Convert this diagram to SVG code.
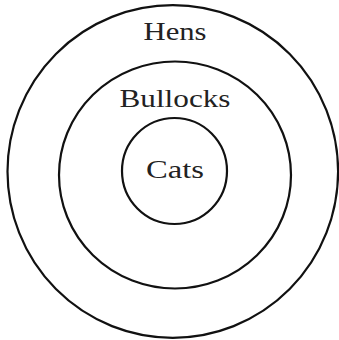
<svg xmlns="http://www.w3.org/2000/svg" width="339" height="340" viewBox="0 0 339 340">
<style>
.ring{fill:none;stroke:#111;stroke-width:2.2}
.lbl{font-family:"Liberation Serif","DejaVu Serif",serif;font-size:25px;fill:#222;text-anchor:middle}
</style>
<rect width="339" height="340" fill="#fff"/>
<g id="hens">
<ellipse class="ring" cx="172.8" cy="171.5" rx="165.3" ry="166.3"/>
<text class="lbl" x="175" y="40" textLength="63" lengthAdjust="spacingAndGlyphs">Hens</text>
</g>
<g id="bullocks">
<ellipse class="ring" cx="175" cy="175" rx="116" ry="113.5"/>
<text class="lbl" x="175" y="107" textLength="111" lengthAdjust="spacingAndGlyphs">Bullocks</text>
</g>
<g id="cats">
<ellipse class="ring" cx="174.5" cy="171" rx="52.5" ry="53"/>
<text class="lbl" x="175" y="178" textLength="58" lengthAdjust="spacingAndGlyphs">Cats</text>
</g>
<g id="connectors"/>
</svg>
